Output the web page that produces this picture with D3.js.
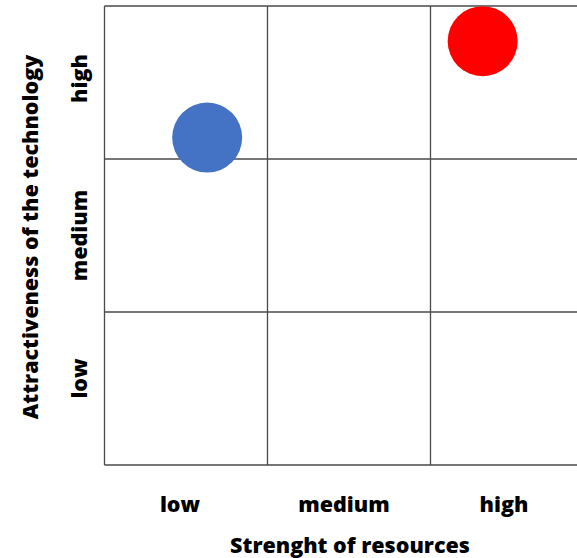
<!DOCTYPE html>
<html>
<head>
<meta charset="utf-8">
<script src="https://cdn.jsdelivr.net/npm/d3@7"></script>
<style>
  html, body { margin: 0; padding: 0; background: #fff; }
  svg text { font-family: "Open Sans", "DejaVu Sans", sans-serif; font-weight: 800; fill: #000; }
</style>
</head>
<body>
<svg id="chart" width="577" height="558"></svg>
<script>
const levels = ["low", "medium", "high"];
const xLabel = "Strenght of resources";
const yLabel = "Attractiveness of the technology";
const pointNames = ["A", "B"];
const pointX = [0.63, 2.32];
const pointY = [2.14, 2.77];
const pointColors = ["#4472C4", "#FF0000"];

(function () {
const svg = d3.select("#chart");
const mLeft = 104.5, mRight = 593.5, mTop = 6, mBottom = 465;

const x = d3.scaleLinear().domain([0, 3]).range([mLeft, mRight]);
const y = d3.scaleLinear().domain([0, 3]).range([mBottom, mTop]);
const xBand = d3.scaleBand().domain(levels).range([mLeft, mRight]);
const yBand = d3.scaleBand().domain(levels).range([mBottom, mTop]);

const grid = svg.append("g").attr("stroke", "#4a4a4a").attr("stroke-width", 1.3).attr("fill", "none");
grid.selectAll("line.v").data(d3.range(0, 4)).join("line").attr("class", "v")
  .attr("x1", d => x(d)).attr("x2", d => x(d)).attr("y1", mTop).attr("y2", mBottom);
grid.selectAll("line.h").data(d3.range(0, 4)).join("line").attr("class", "h")
  .attr("y1", d => y(d)).attr("y2", d => y(d)).attr("x1", mLeft).attr("x2", mRight);

svg.append("g").selectAll("circle").data(pointNames).join("circle")
  .attr("cx", (d, i) => x(pointX[i]))
  .attr("cy", (d, i) => y(pointY[i]))
  .attr("r", 35)
  .attr("fill", (d, i) => pointColors[i]);

const xOff = [-6, -5, -8];
svg.append("g").selectAll("text").data(levels).join("text")
  .attr("x", (d, i) => xBand(d) + xBand.bandwidth() / 2 + xOff[i])
  .attr("y", 512)
  .attr("text-anchor", "middle")
  .attr("font-size", 21.5)
  .text(d => d);

const yOff = [-10, 0, -4];
svg.append("g").selectAll("text").data(levels).join("text")
  .attr("transform", (d, i) => `translate(87,${yBand(d) + yBand.bandwidth() / 2 + yOff[i]}) rotate(-90)`)
  .attr("text-anchor", "middle")
  .attr("font-size", 21.5)
  .text(d => d);

svg.append("text")
  .attr("x", 350).attr("y", 553)
  .attr("text-anchor", "middle")
  .attr("font-size", 21.5)
  .text(xLabel);

svg.append("text")
  .attr("transform", "translate(38,237) rotate(-90)")
  .attr("text-anchor", "middle")
  .attr("font-size", 21.5)
  .text(yLabel);
})();
</script>
</body>
</html>
